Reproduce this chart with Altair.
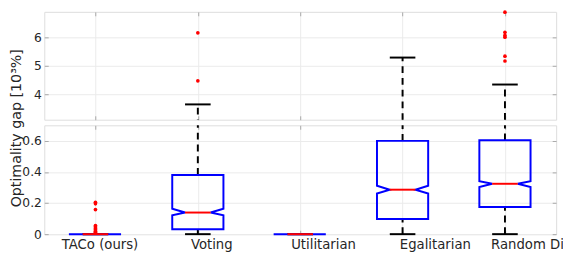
import json
import altair as alt
import pandas as pd

# ---------------- data ----------------
categories = ["TACo (ours)", "Voting", "Utilitarian", "Egalitarian", "Random Dictator"]
q1 = [0.0, 0.032, 0.0, 0.097, 0.175]
median = [0.0, 0.139, 0.0, 0.286, 0.324]
q3 = [0.0, 0.381, 0.0, 0.600, 0.604]
notch_lo = [0.0, 0.122, 0.0, 0.261, 0.303]
notch_hi = [0.0, 0.164, 0.0, 0.311, 0.341]
whisker_lo = [0.0, 0.0, 0.0, 0.0, 0.0]
whisker_hi = [0.0, 3.64, 0.0, 5.29, 4.34]
outliers_taco = [0.205, 0.195, 0.158, 0.055, 0.047, 0.040, 0.033, 0.026, 0.019, 0.012, 0.006]
outliers_voting = [6.16, 4.47]
outliers_utilitarian = []
outliers_egalitarian = []
outliers_random = [6.89, 6.18, 6.07, 6.01, 5.34, 5.17]
top_ticks = [4, 5, 6]
bottom_ticks = [0, 0.2, 0.4, 0.6]
y_title = "Optimality gap [10³%]"

# ---------------- style ----------------
FONT = "DejaVu Sans"
TXT = "#262626"
GRID = "#ebebeb"
FRAME = "#a8a8a8"
BLUE = "#0000ff"
RED = "#ff0000"
BOX_HALF = 0.25
NOTCH_IN = 0.125
CAP_HALF = 0.125
XDOM = [0.5, 5.5]
LDOM = [0.506, 5.085]
TOP_DOM = [3.1, 6.9]
BOT_DOM = [0.0, 0.7]
W = 522
AX_OFF = -4

pos = list(range(1, len(categories) + 1))

# box outlines
rows = []
for i, c in enumerate(categories):
    x = pos[i]
    w = BOX_HALF
    n = BOX_HALF - NOTCH_IN
    verts = [(x - w, q3[i]), (x + w, q3[i]), (x + w, notch_hi[i]), (x + n, median[i]),
             (x + w, notch_lo[i]), (x + w, q1[i]), (x - w, q1[i]), (x - w, notch_lo[i]),
             (x - n, median[i]), (x - w, notch_hi[i]), (x - w, q3[i])]
    for k, (vx, vy) in enumerate(verts):
        rows.append({"cat": c, "k": k, "x": vx, "y": vy})
box_df = pd.DataFrame(rows)

med_df = pd.DataFrame({"cat": categories,
                       "xl": [p - CAP_HALF for p in pos],
                       "xr": [p + CAP_HALF for p in pos],
                       "y": median})

wrows = []
for i, c in enumerate(categories):
    wrows.append({"cat": c, "x": pos[i], "y": q3[i], "y2": whisker_hi[i]})
    wrows.append({"cat": c, "x": pos[i], "y": whisker_lo[i], "y2": q1[i]})
whisk_df = pd.DataFrame(wrows)

crows = []
for i, c in enumerate(categories):
    for v in (whisker_lo[i], whisker_hi[i]):
        crows.append({"cat": c, "xl": pos[i] - CAP_HALF, "xr": pos[i] + CAP_HALF, "y": v})
cap_df = pd.DataFrame(crows)

out_lists = [outliers_taco, outliers_voting, outliers_utilitarian, outliers_egalitarian, outliers_random]
orows = []
for i, c in enumerate(categories):
    for v in out_lists[i]:
        orows.append({"cat": c, "x": pos[i], "y": v})
out_df = pd.DataFrame(orows)


def xscale():
    return alt.Scale(domain=XDOM, nice=False, zero=False)


def yscale(dom):
    return alt.Scale(domain=dom, nice=False, zero=False)


def frame_layers(dom, ticks, title=None):
    fdf = pd.DataFrame({"pos": pos, "yv": [dom[0]] * len(pos)})
    b = alt.Chart(fdf)
    ax_left = dict(orient="left", values=ticks, format="~g", offset=AX_OFF, tickSize=4,
                   tickColor=FRAME, labelPadding=3, domain=False, grid=True,
                   gridColor=GRID, labelColor=TXT, labelFontSize=12.5, labelFont=FONT)
    if title:
        ax_left.update(title=title, titleFontSize=14.5, titleFontWeight="normal",
                       titleColor=TXT, titleFont=FONT, titleAngle=270,
                       titleAlign="center", titleBaseline="top",
                       titleX=-35 + AX_OFF, titleY=2.5)
    else:
        ax_left.update(title=None)
    left = b.mark_point(opacity=0).encode(
        x=alt.X("pos:Q", scale=xscale(),
                axis=alt.Axis(orient="bottom", values=pos, labels=False, tickSize=4,
                              offset=AX_OFF, tickColor=FRAME, domain=False, grid=True,
                              gridColor=GRID, title=None)),
        y=alt.Y("yv:Q", scale=yscale(dom), axis=alt.Axis(**ax_left)),
    )
    right = b.mark_point(opacity=0).encode(
        x=alt.X("pos:Q", scale=xscale(),
                axis=alt.Axis(orient="top", values=pos, labels=False, tickSize=4,
                              offset=AX_OFF, tickColor=FRAME, domain=False, grid=False,
                              title=None)),
        y=alt.Y("yv:Q", scale=yscale(dom),
                axis=alt.Axis(orient="right", values=ticks, labels=False, tickSize=4,
                              offset=AX_OFF, tickColor=FRAME, domain=False, grid=False,
                              title=None)),
    )
    return [left, right]


def data_layers(dom, with_box):
    lo, hi = dom
    layers = []
    layers.append(alt.Chart(whisk_df).mark_rule(color="black", strokeWidth=2,
                                                 strokeDash=[7, 5], clip=True).encode(
        x=alt.X("x:Q", scale=xscale(), axis=None),
        y=alt.Y("y:Q", scale=yscale(dom), axis=None),
        y2="y2:Q"))
    cdf = cap_df[(cap_df.y >= lo) & (cap_df.y <= hi)]
    layers.append(alt.Chart(cdf).mark_rule(color="black", strokeWidth=2).encode(
        x=alt.X("xl:Q", scale=xscale(), axis=None), x2="xr:Q",
        y=alt.Y("y:Q", scale=yscale(dom), axis=None)))
    if with_box:
        layers.append(alt.Chart(box_df).mark_line(color=BLUE, strokeWidth=2,
                                                   strokeJoin="miter", strokeCap="square").encode(
            x=alt.X("x:Q", scale=xscale(), axis=None),
            y=alt.Y("y:Q", scale=yscale(dom), axis=None),
            order="k:Q", detail="cat:N"))
        layers.append(alt.Chart(med_df).mark_rule(color=RED, strokeWidth=2).encode(
            x=alt.X("xl:Q", scale=xscale(), axis=None), x2="xr:Q",
            y=alt.Y("y:Q", scale=yscale(dom), axis=None)))
    odf = out_df[(out_df.y >= lo) & (out_df.y <= hi)]
    layers.append(alt.Chart(odf).mark_circle(color=RED, size=14, opacity=1).encode(
        x=alt.X("x:Q", scale=xscale(), axis=None),
        y=alt.Y("y:Q", scale=yscale(dom), axis=None)))
    return layers


label_df = pd.DataFrame({"lpos": pos, "yv": [0.0] * len(pos)})
label_expr = json.dumps(categories) + "[datum.value - 1]"
label_layer = alt.Chart(label_df).mark_point(opacity=0).encode(
    x=alt.X("lpos:Q", scale=alt.Scale(domain=LDOM, nice=False, zero=False),
            axis=alt.Axis(orient="bottom", values=pos, labelExpr=label_expr, ticks=False,
                          domain=False, grid=False, labelPadding=4, labelFontSize=13.5,
                          labelColor=TXT, labelFont=FONT, labelOverlap=False,
                          labelFlush=False, title=None)),
    y=alt.Y("yv:Q", scale=yscale(BOT_DOM), axis=None))

top = alt.layer(*(frame_layers(TOP_DOM, top_ticks) + data_layers(TOP_DOM, False))).resolve_scale(
    x="independent").resolve_axis(x="independent", y="independent").properties(width=W, height=110)

bottom = alt.layer(*(frame_layers(BOT_DOM, bottom_ticks, y_title) + data_layers(BOT_DOM, True)
                     + [label_layer])).resolve_scale(
    x="independent").resolve_axis(x="independent", y="independent").properties(width=W, height=111)

chart = alt.vconcat(top, bottom, spacing=5.7, bounds="flush").properties(
    padding={"left": 0, "top": -1.5, "right": -42, "bottom": 0}
).configure_view(stroke=FRAME, strokeWidth=1).configure(font=FONT)

chart.save("out.html", embed_options={"renderer": "svg", "actions": False})
